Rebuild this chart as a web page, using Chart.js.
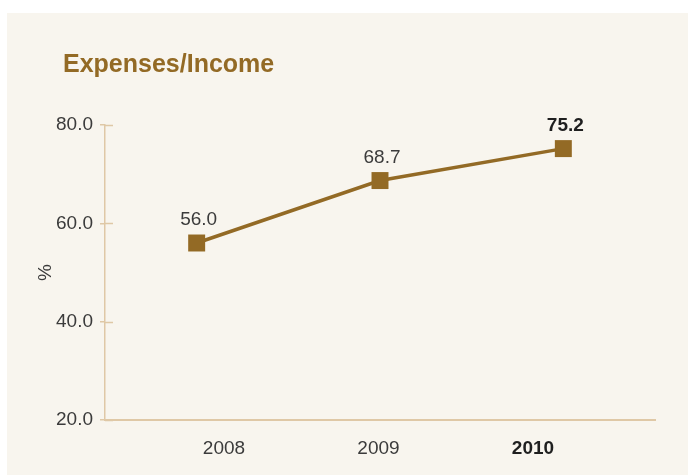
<!DOCTYPE html>
<html>
<head>
<meta charset="utf-8">
<script src="https://cdn.jsdelivr.net/npm/chart.js@4/dist/chart.umd.min.js"></script>
<style>
  html, body { margin: 0; padding: 0; background: #ffffff; }
  body { width: 688px; height: 475px; position: relative; overflow: hidden; }
  .panel { position: absolute; left: 7px; top: 13px; width: 681px; height: 462px; background: #f8f5ee; }
  canvas { display: block; }
</style>
</head>
<body>
<div class="panel">
  <canvas id="ratioChart" width="681" height="462"></canvas>
</div>
<script>
document.addEventListener('DOMContentLoaded', function() {
    const years = ['2008', '2009', '2010'];
    const expenseRatio = [56.0, 68.7, 75.2];
    const yTicks = [20, 40, 60, 80];
    const highlightYear = '2010';

    const brown = '#936a25';
    const tan = '#dfc8a6';
    const textGrey = '#3b3b3b';
    const textDark = '#1f1f1f';
    const family = '"Liberation Sans", Arial, Helvetica, sans-serif';

    // heading drawn in the top-left corner of the panel
    const headingPlugin = {
        id: 'heading',
        afterDraw(chart) {
            const c = chart.ctx;
            c.save();
            c.font = 'bold 25px ' + family;
            c.fillStyle = brown;
            c.textBaseline = 'alphabetic';
            c.textAlign = 'left';
            c.fillText('Expenses/Income', 56, 59);
            c.restore();
        }
    };

    // y ticks cross the axis line, so add the stub inside the plot
    const innerTicks = {
        id: 'innerTicks',
        afterDraw(chart) {
            const scale = chart.scales.y;
            const c = chart.ctx;
            c.save();
            c.strokeStyle = tan;
            c.lineWidth = 1.5;
            scale.ticks.forEach(function(t) {
                const y = Math.round(scale.getPixelForValue(t.value)) + 0.5;
                c.beginPath();
                c.moveTo(scale.right, y);
                c.lineTo(scale.right + 8, y);
                c.stroke();
            });
            c.restore();
        }
    };

    // value above each marker
    const valueLabels = {
        id: 'valueLabels',
        afterDatasetsDraw(chart) {
            const meta = chart.getDatasetMeta(0);
            const c = chart.ctx;
            c.save();
            c.textAlign = 'center';
            c.textBaseline = 'alphabetic';
            meta.data.forEach(function(pt, i) {
                const bold = years[i] === highlightYear;
                c.font = (bold ? 'bold ' : '') + '19px ' + family;
                c.fillStyle = bold ? textDark : textGrey;
                c.fillText(expenseRatio[i].toFixed(1), pt.x + 2, pt.y - 18);
            });
            c.restore();
        }
    };

    const yearNums = years.map(Number);

    new Chart(document.getElementById('ratioChart'), {
        type: 'line',
        data: {
            labels: years,
            datasets: [{
                data: expenseRatio,
                borderColor: brown,
                backgroundColor: brown,
                borderWidth: 3.5,
                pointStyle: 'rect',
                pointRadius: 12,
                pointBorderWidth: 0,
                pointBackgroundColor: brown,
                tension: 0
            }]
        },
        options: {
            responsive: false,
            animation: false,
            layout: { padding: { left: 0, right: 33, top: 112, bottom: 0 } },
            plugins: {
                legend: { display: false },
                tooltip: { enabled: false }
            },
            scales: {
                x: {
                    type: 'category',
                    offset: true,
                    display: false
                },
                years: {
                    type: 'linear',
                    position: 'bottom',
                    min: yearNums[0] - 0.77,
                    max: yearNums[yearNums.length - 1] + 0.79,
                    grid: { display: false },
                    border: { display: true, color: tan, width: 2 },
                    ticks: {
                        stepSize: 1,
                        includeBounds: false,
                        padding: 9,
                        color: function(ctx) {
                            return String(ctx.tick.value) === highlightYear ? textDark : textGrey;
                        },
                        font: function(ctx) {
                            const bold = ctx.tick && String(ctx.tick.value) === highlightYear;
                            return { family: family, size: 19, weight: bold ? 'bold' : 'normal' };
                        },
                        callback: function(v) { return String(v); }
                    },
                    afterFit: function(scale) { scale.height = 55; }
                },
                y: {
                    min: yTicks[0],
                    max: yTicks[yTicks.length - 1],
                    border: { display: true, color: tan, width: 1.5 },
                    grid: {
                        drawOnChartArea: false,
                        drawTicks: true,
                        tickLength: 5,
                        color: tan,
                        lineWidth: 1.5
                    },
                    ticks: {
                        stepSize: 20,
                        padding: 7,
                        color: textGrey,
                        font: { family: family, size: 19 },
                        callback: function(v) { return v.toFixed(1); }
                    },
                    title: {
                        display: true,
                        text: '%',
                        color: textGrey,
                        font: { family: family, size: 19 },
                        padding: { top: 27, bottom: 0 }
                    },
                    afterFit: function(scale) { scale.width = 98; }
                }
            }
        },
        plugins: [headingPlugin, innerTicks, valueLabels]
    });
});
</script>
</body>
</html>
